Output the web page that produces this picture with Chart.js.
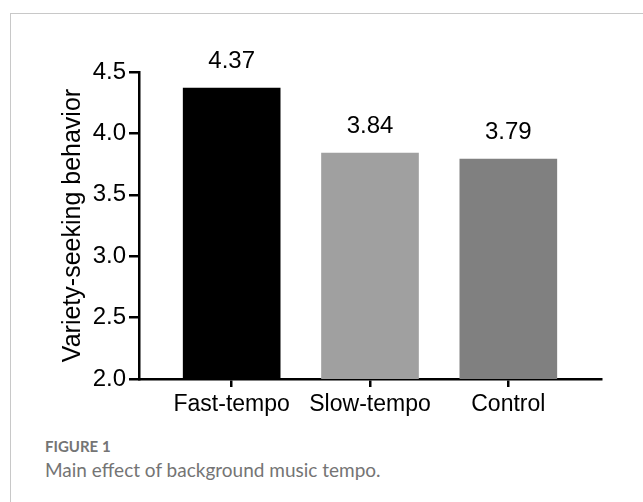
<!DOCTYPE html>
<html>
<head>
<meta charset="utf-8">
<script src="https://cdn.jsdelivr.net/npm/chart.js@4.4.1/dist/chart.umd.min.js"></script>
<style>
  html, body { margin: 0; padding: 0; background: #fff; overflow: hidden; }
  body { width: 643px; height: 502px; position: relative; }
  .frame {
    position: absolute; left: 10px; top: 13px; width: 700px; height: 560px;
    border: 1px solid #c8c8c8; box-sizing: border-box;
  }
  .wrap { position: absolute; left: 0; top: 0; width: 643px; height: 430px; }
  .cap { position: absolute; left: 45px; font-family: Lato, "Open Sans", sans-serif; color: #747474; }
  .cap1 { top: 437px; font-size: 15px; font-weight: bold; }
  .cap2 { top: 458px; font-size: 19px; }
</style>
</head>
<body>
<div class="frame"></div>
<div class="wrap"><canvas id="bars"></canvas></div>
<div class="cap cap1">FIGURE 1</div>
<div class="cap cap2">Main effect of background music tempo.</div>
<script>
const categories = ['Fast-tempo', 'Slow-tempo', 'Control'];
const scores = [4.37, 3.84, 3.79];
const barColors = ['#000000', '#a0a0a0', '#808080'];
const yTicks = [2.0, 2.5, 3.0, 3.5, 4.0, 4.5];

const FONT = '"Liberation Sans", Arial, sans-serif';

// value labels above each bar
const valueLabels = {
  id: 'valueLabels',
  afterDatasetsDraw(chart) {
    const ctx = chart.ctx;
    const meta = chart.getDatasetMeta(0);
    ctx.save();
    ctx.font = '24px ' + FONT;
    ctx.fillStyle = '#000';
    ctx.textAlign = 'center';
    ctx.textBaseline = 'bottom';
    meta.data.forEach((bar, i) => {
      ctx.fillText(scores[i].toFixed(2), bar.x, bar.y - 15);
    });
    ctx.restore();
  }
};

new Chart('bars', {
  type: 'bar',
  data: {
    datasets: [{
      data: scores.map((v, i) => ({ x: i, y: v })),
      backgroundColor: barColors,
      borderWidth: 0,
      barThickness: 97
    }]
  },
  options: {
    responsive: true,
    maintainAspectRatio: false,
    animation: false,
    layout: { padding: { top: 72, right: 42 } },
    plugins: { legend: { display: false }, tooltip: { enabled: false } },
    scales: {
      x: {
        type: 'linear',
        offset: false,
        min: -0.67,
        max: 2.67,
        z: 1,
        afterFit(scale) { scale.height = 51; },
        afterBuildTicks(scale) { scale.ticks = categories.map((c, i) => ({ value: i })); },
        border: { color: '#000', width: 2.5 },
        grid: { offset: false, drawOnChartArea: false, color: '#000', lineWidth: 2.5, tickLength: 8 },
        ticks: {
          callback: (v) => categories[v],
          color: '#000',
          font: { family: FONT, size: 23 },
          padding: 4,
          maxRotation: 0,
          autoSkip: false
        }
      },
      y: {
        min: 2,
        max: 4.5,
        z: 1,
        afterFit(scale) { scale.width = 139; },
        afterBuildTicks(scale) { scale.ticks = yTicks.map(v => ({ value: v })); },
        border: { color: '#000', width: 2.5 },
        grid: { drawOnChartArea: false, color: '#000', lineWidth: 2.5, tickLength: 10 },
        ticks: {
          callback: (v) => v.toFixed(1),
          color: '#000',
          font: { family: FONT, size: 24 },
          padding: 3
        },
        title: {
          display: true,
          text: 'Variety-seeking behavior',
          color: '#000',
          font: { family: FONT, size: 25 },
          padding: { top: 58, bottom: 0 }
        }
      }
    }
  },
  plugins: [valueLabels]
});
</script>
</body>
</html>
